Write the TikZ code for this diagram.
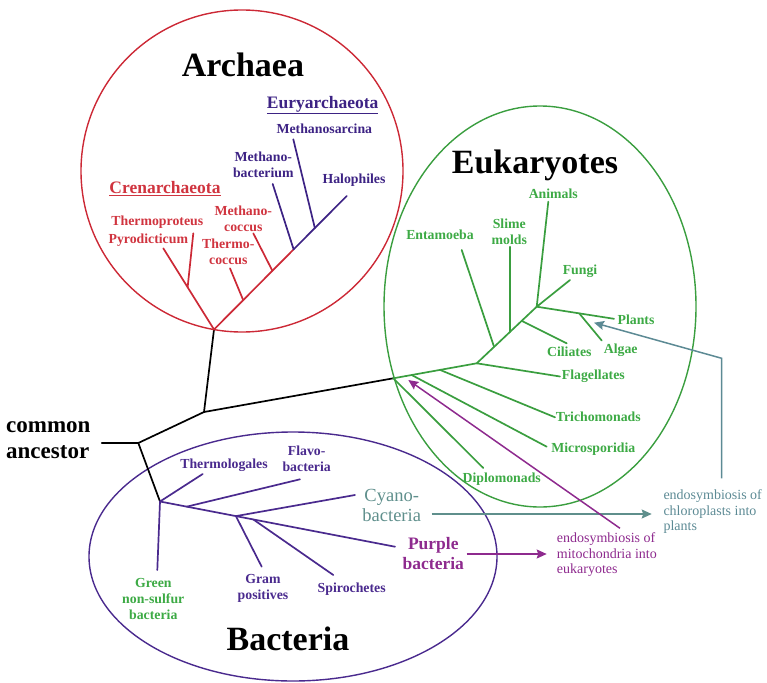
\documentclass[tikz,border=0pt]{standalone}
\usepackage{fontspec}
\setmainfont{Liberation Serif}
\usetikzlibrary{arrows.meta,calc}
\definecolor{ArchRed}{HTML}{CC2936}
\definecolor{ArchText}{HTML}{D0343F}
\definecolor{EuryBlue}{HTML}{3D2384}
\definecolor{EukGreen}{HTML}{3A9E3F}
\definecolor{EukText}{HTML}{3DAA45}
\definecolor{BactPurple}{HTML}{4A2A8E}
\definecolor{CyanoTeal}{HTML}{5F8F8C}
\definecolor{ChloroSlate}{HTML}{5C8A94}
\definecolor{PurpleBact}{HTML}{8E2A8E}

\begin{document}
\begin{tikzpicture}[
  x=1pt, y=-1pt,
  branch/.style={line width=1.7pt, line cap=round},
  outline/.style={line width=1.4pt},
  leaf/.style={font=\bfseries\fontsize{13.8}{16}\selectfont, align=center, inner sep=0pt},
  domtitle/.style={font=\bfseries\fontsize{34}{40}\selectfont, inner sep=0pt},
  phylum/.style={font=\bfseries\fontsize{17.5}{20}\selectfont, inner sep=0pt},
  note/.style={font=\fontsize{14}{15.5}\selectfont, align=left, inner sep=0pt, anchor=west},
  transfer/.style={line width=1.5pt, -{Stealth[length=10pt,width=9pt,inset=1.5pt]}},
]
\useasboundingbox (0,0) rectangle (767,682);

% --- Domain outlines ---
\draw[outline, ArchRed] (242,171) circle [radius=161];
\draw[outline, EukGreen] (540,306.5) ellipse [x radius=156, y radius=200.5];
\draw[outline, BactPurple] (293,556.5) ellipse [x radius=204, y radius=124.5];

\node[domtitle] (archaea) at (243,65) {Archaea};
\node[domtitle] (eukaryotes) at (535,165) {Eukaryotes};
\node[domtitle] (bacteria) at (288,639) {Bacteria};

% --- Common ancestor ---
\node[anchor=west, align=left, inner sep=0pt,
      font=\bfseries\fontsize{23}{26}\selectfont] (ancestor) at (6,440.5) {common\\ancestor};
\coordinate (ca-left) at (101.7,443);
\coordinate (ca) at (138.3,443);
\coordinate (split) at (204,412);
\coordinate (aroot) at (214,329.5);
\coordinate (eroot) at (393.3,378.3);
\coordinate (broot) at (160,501.5);

\draw[branch] (ca-left) -- (ca) -- (split) -- (aroot);
\draw[branch] (split) -- (eroot);
\draw[branch] (ca) -- (broot);

% --- Archaea ---
\coordinate (a-halo) at (346.7,196);
\coordinate (a-pyro) at (163.3,248.3);
\coordinate (a-tcoc) at ($(aroot)!0.22!(a-halo)$);
\coordinate (a-mcoc) at ($(aroot)!0.44!(a-halo)$);
\coordinate (a-mbac) at ($(aroot)!0.6!(a-halo)$);
\coordinate (a-msar) at ($(aroot)!0.76!(a-halo)$);
\coordinate (a-tpro) at ($(aroot)!0.52!(a-pyro)$);
\coordinate (a-tpro-end) at (193.3,233.3);
\coordinate (a-tcoc-end) at (230,268.3);
\coordinate (a-mcoc-end) at (253.3,233.3);
\coordinate (a-mbac-end) at (272.7,184);
\coordinate (a-msar-end) at (293.3,139.3);

% Crenarchaeota
\draw[branch, ArchRed] (a-pyro) -- (aroot) -- (a-mbac);
\draw[branch, ArchRed] (a-tpro) -- (a-tpro-end);
\draw[branch, ArchRed] (a-tcoc) -- (a-tcoc-end);
\draw[branch, ArchRed] (a-mcoc) -- (a-mcoc-end);
% Euryarchaeota
\draw[branch, EuryBlue] (a-mbac) -- (a-halo);
\draw[branch, EuryBlue] (a-mbac) -- (a-mbac-end);
\draw[branch, EuryBlue] (a-msar) -- (a-msar-end);

\node[phylum, EuryBlue] (eury) at (322.7,105) {\underline{Euryarchaeota}};
\node[leaf, EuryBlue] (msar) at (324.3,128.3) {Methanosarcina};
\node[leaf, EuryBlue] (mbac) at (263.3,165) {Methano-\\bacterium};
\node[leaf, EuryBlue] (halo) at (354,180) {Halophiles};
\node[phylum, ArchText] (cren) at (165,188.3) {\underline{Crenarchaeota}};
\node[leaf, ArchText] (tpro) at (157.3,221.7) {Thermoproteus};
\node[leaf, ArchText] (pyro) at (148.3,240) {Pyrodicticum};
\node[leaf, ArchText] (mcoc) at (243.3,218.7) {Methano-\\coccus};
\node[leaf, ArchText] (tcoc) at (228.3,252.2) {Thermo-\\coccus};

% --- Eukaryotes ---
\coordinate (e-mid) at (476.7,363.3);
\coordinate (e-crown) at (536.7,306.7);
\coordinate (e-plants-end) at (614,318.8);
\coordinate (e-micro) at ($(eroot)!0.22!(e-mid)$);
\coordinate (e-tricho) at ($(eroot)!0.56!(e-mid)$);
\coordinate (e-ent) at ($(e-mid)!0.29!(e-crown)$);
\coordinate (e-slime) at ($(e-mid)!0.555!(e-crown)$);
\coordinate (e-cil) at ($(e-mid)!0.75!(e-crown)$);
\coordinate (e-alg) at ($(e-crown)!0.55!(e-plants-end)$);
\coordinate (e-anim-end) at (548.3,201.7);
\coordinate (e-fungi-end) at (570,280);
\coordinate (e-alg-end) at (601.7,340.5);
\coordinate (e-ent-end) at (461.7,250);
\coordinate (e-slime-end) at (510,246.7);
\coordinate (e-cil-end) at (566.7,343.3);
\coordinate (e-flag-end) at (560,376.5);
\coordinate (e-tricho-end) at (555,417.3);
\coordinate (e-micro-end) at (546.7,446.7);
\coordinate (e-diplo-end) at (483.3,468);

\draw[branch, EukGreen] (eroot) -- (e-mid) -- (e-crown) -- (e-anim-end);
\draw[branch, EukGreen] (e-crown) -- (e-fungi-end);
\draw[branch, EukGreen] (e-crown) -- (e-plants-end);
\draw[branch, EukGreen] (e-alg) -- (e-alg-end);
\draw[branch, EukGreen] (e-ent) -- (e-ent-end);
\draw[branch, EukGreen] (e-slime) -- (e-slime-end);
\draw[branch, EukGreen] (e-cil) -- (e-cil-end);
\draw[branch, EukGreen] (e-mid) -- (e-flag-end);
\draw[branch, EukGreen] (e-tricho) -- (e-tricho-end);
\draw[branch, EukGreen] (e-micro) -- (e-micro-end);
\draw[branch, EukGreen] (eroot) -- (e-diplo-end);

\node[leaf, EukText] (animals) at (553.3,193.3) {Animals};
\node[leaf, EukText] (fungi) at (580,271.7) {Fungi};
\node[leaf, EukText] (plants) at (636,319.3) {Plants};
\node[leaf, EukText] (algae) at (620.7,350) {Algae};
\node[leaf, EukText] (entamoeba) at (440,235) {Entamoeba};
\node[leaf, EukText] (slime) at (509.3,231.3) {Slime\\molds};
\node[leaf, EukText] (ciliates) at (569.3,352) {Ciliates};
\node[leaf, EukText] (flagellates) at (593.3,376.5) {Flagellates};
\node[leaf, EukText] (trichomonads) at (598.3,416.5) {Trichomonads};
\node[leaf, EukText] (microsporidia) at (593.3,449.3) {Microsporidia};
\node[leaf, EukText] (diplomonads) at (501.7,479.3) {Diplomonads};

% --- Bacteria ---
\coordinate (b-purple-end) at (395,546.7);
\coordinate (b-flavo) at ($(broot)!0.114!(b-purple-end)$);
\coordinate (b-mid) at ($(broot)!0.323!(b-purple-end)$);
\coordinate (b-spiro) at ($(broot)!0.397!(b-purple-end)$);
\coordinate (b-green-end) at (157.3,570);
\coordinate (b-thermo-end) at (202.7,474);
\coordinate (b-flavo-end) at (300,479.3);
\coordinate (b-cyano-end) at (355,495);
\coordinate (b-gram-end) at (261.7,566.7);
\coordinate (b-spiro-end) at (333.3,575);

\draw[branch, BactPurple] (broot) -- (b-purple-end);
\draw[branch, BactPurple] (broot) -- (b-green-end);
\draw[branch, BactPurple] (broot) -- (b-thermo-end);
\draw[branch, BactPurple] (b-flavo) -- (b-flavo-end);
\draw[branch, BactPurple] (b-mid) -- (b-cyano-end);
\draw[branch, BactPurple] (b-mid) -- (b-gram-end);
\draw[branch, BactPurple] (b-spiro) -- (b-spiro-end);

\node[leaf, EukText] (greennsb) at (153.3,599.3) {Green\\non-sulfur\\bacteria};
\node[leaf, BactPurple] (thermologales) at (224,465) {Thermologales};
\node[leaf, BactPurple] (flavo) at (306.7,458.3) {Flavo-\\bacteria};
\node[leaf, BactPurple] (gram) at (263,588.3) {Gram\\positives};
\node[leaf, BactPurple] (spiro) at (351.7,589.3) {Spirochetes};
\node[align=center, inner sep=0pt, CyanoTeal,
      font=\fontsize{18.5}{20}\selectfont] (cyano) at (391.7,505) {Cyano-\\bacteria};
\node[align=center, inner sep=0pt, PurpleBact,
      font=\bfseries\fontsize{17.5}{20}\selectfont] (purple) at (433.3,554) {Purple\\bacteria};

% --- Endosymbiosis ---
\node[note, ChloroSlate] (chloro) at (663.3,512) {endosymbiosis of\\chloroplasts into\\plants};
\node[note, PurpleBact] (mito) at (556.7,555) {endosymbiosis of\\mitochondria into\\eukaryotes};

\coordinate (cyano-out) at (431.7,514);
\coordinate (cyano-tip) at (651.7,514);
\coordinate (chloro-start) at (721.7,478.3);
\coordinate (chloro-bend) at (721.7,358.3);
\coordinate (chloro-tip) at (594,322.7);
\coordinate (purple-out) at (466.7,554);
\coordinate (purple-tip) at (546.7,554);
\coordinate (mito-start) at (620,528.3);
\coordinate (mito-tip) at (408.3,380);

\draw[transfer, CyanoTeal] (cyano-out) -- (cyano-tip);
\draw[transfer, ChloroSlate] (chloro-start) -- (chloro-bend) -- (chloro-tip);
\draw[transfer, PurpleBact] (purple-out) -- (purple-tip);
\draw[transfer, PurpleBact] (mito-start) -- (mito-tip);

\end{tikzpicture}
\end{document}
